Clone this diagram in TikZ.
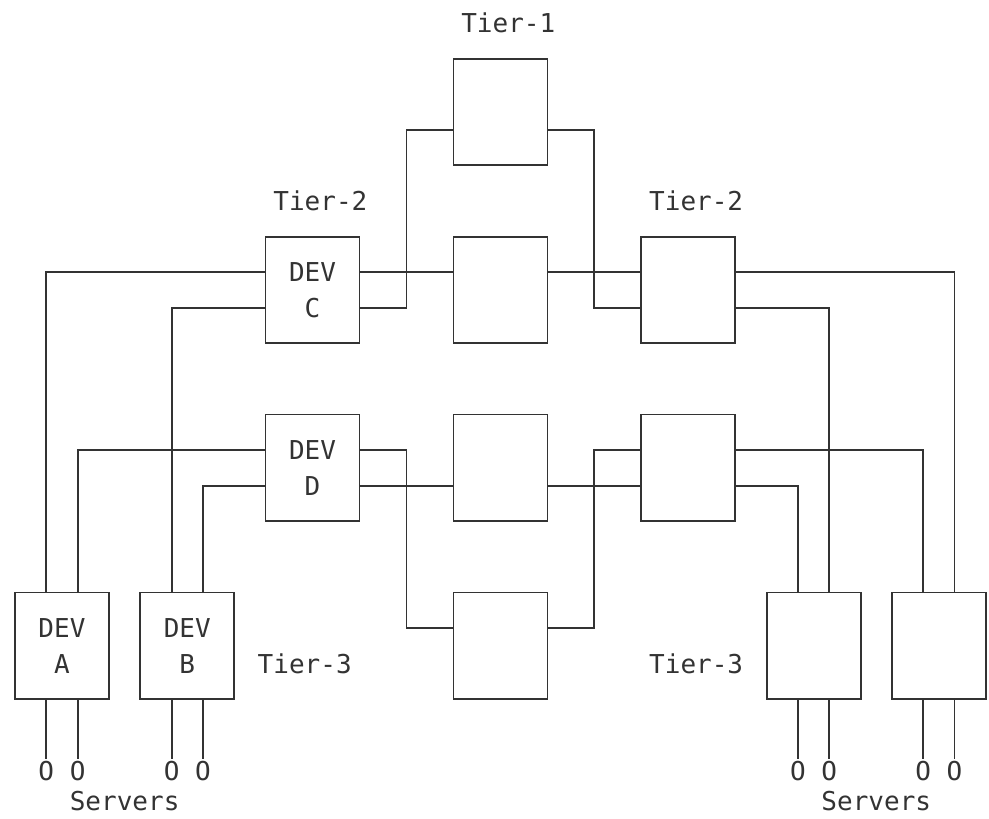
\documentclass[tikz,border=0pt]{standalone}
\usepackage{fontspec}
\setmainfont{DejaVu Sans Mono}
\usepackage{tikz}
\definecolor{ink}{HTML}{333333}

\begin{document}
\begin{tikzpicture}[x=0.3915cm, y=-0.89cm, ink, font=\fontsize{18.5}{25.3}\selectfont,
	dev/.style={draw, line width=1.3pt, minimum width=2.349cm, minimum height=2.67cm, inner sep=0pt, align=center},
	lnk/.style={line width=1.3pt},
	lbl/.style={inner sep=0pt},
	srv/.style={inner sep=1pt}]
	    \useasboundingbox (-0.958,-0.646) rectangle (62.2,22.36);
	    \foreach \r in {3,7,8,12,13,17}
	        \coordinate (row\r) at (0,\r);
	    \foreach \c in {2,4,10,12,25,37,50,52,58,60}
	        \coordinate (col\c) at (\c,0);
	    \node[dev] (t1) at (31,2.5) {};
	    \node[dev] (c) at (19,7.5) {DEV\\C};
	    \node[dev] (m1) at (31,7.5) {};
	    \node[dev] (r1) at (43,7.5) {};
	    \node[dev] (d) at (19,12.5) {DEV\\D};
	    \node[dev] (m2) at (31,12.5) {};
	    \node[dev] (r2) at (43,12.5) {};
	    \node[dev] (a) at (3,17.5) {DEV\\A};
	    \node[dev] (b) at (11,17.5) {DEV\\B};
	    \node[dev] (m3) at (31,17.5) {};
	    \node[dev] (e) at (51,17.5) {};
	    \node[dev] (f) at (59,17.5) {};
	    \node[lbl] (tier1) at (31.5,0) {Tier-1};
	    \node[lbl] (tier2l) at (19.5,5) {Tier-2};
	    \node[lbl] (tier2r) at (43.5,5) {Tier-2};
	    \node[lbl] (tier3l) at (18.5,18) {Tier-3};
	    \node[lbl] (tier3r) at (43.5,18) {Tier-3};
	    \node[lbl] (srvl) at (7,21.85) {Servers};
	    \node[lbl] (srvr) at (55,21.85) {Servers};
	    \draw[lnk] (c.west |- row7) -| (col2 |- a.north);
	    \draw[lnk] (c.west |- row8) -| (col10 |- b.north);
	    \draw[lnk] (d.west |- row12) -| (col4 |- a.north);
	    \draw[lnk] (d.west |- row13) -| (col12 |- b.north);
	    \draw[lnk] (t1.west |- row3) -| (col25 |- row8) -- (c.east |- row8);
	    \draw[lnk] (c.east |- row7) -- (m1.west |- row7);
	    \draw[lnk] (d.east |- row12) -| (col25 |- row17) -- (m3.west |- row17);
	    \draw[lnk] (d.east |- row13) -- (m2.west |- row13);
	    \draw[lnk] (t1.east |- row3) -| (col37 |- row8) -- (r1.west |- row8);
	    \draw[lnk] (m1.east |- row7) -- (r1.west |- row7);
	    \draw[lnk] (r2.west |- row12) -| (col37 |- row17) -- (m3.east |- row17);
	    \draw[lnk] (m2.east |- row13) -- (r2.west |- row13);
	    \draw[lnk] (r1.east |- row7) -| (col60 |- f.north);
	    \draw[lnk] (r1.east |- row8) -| (col52 |- e.north);
	    \draw[lnk] (r2.east |- row12) -| (col58 |- f.north);
	    \draw[lnk] (r2.east |- row13) -| (col50 |- e.north);
	    \foreach \c/\bx [count=\i] in {2/a,4/a,10/b,12/b,50/e,52/e,58/f,60/f} {
	        \node[srv] (s\i) at (\c,21) {O};
	        \draw[lnk] (s\i.north |- \bx.south) -- (s\i.north);
	    }
	\end{tikzpicture}
\end{document}
